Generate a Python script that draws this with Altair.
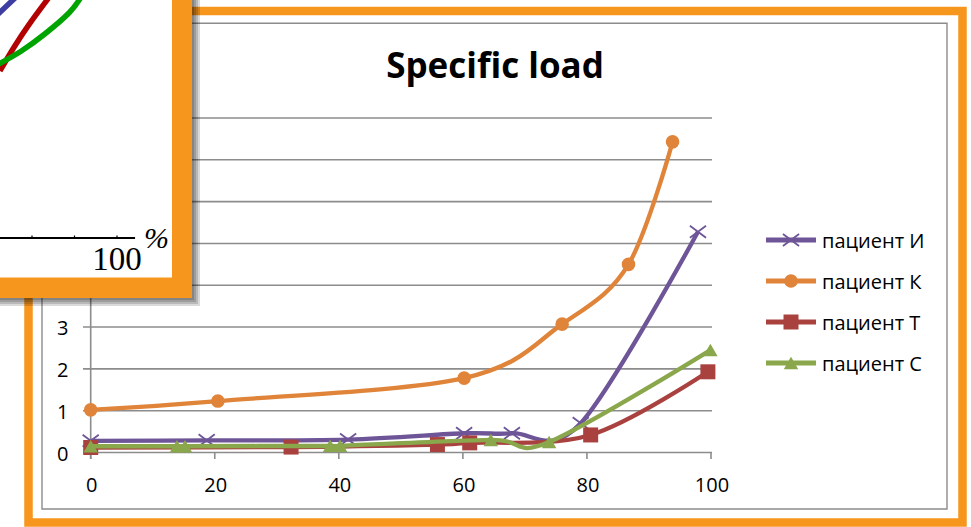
import altair as alt
import pandas as pd

W, H = 971, 527

# ---------------- data ----------------
series = ["пациент И", "пациент К", "пациент Т", "пациент С"]
colors = ["#6E5597", "#E0843A", "#A9423F", "#8AA74B"]

x_I = [0, 18.7, 41.5, 60.2, 67.9, 79.0, 97.9]
y_I = [0.28, 0.29, 0.31, 0.46, 0.46, 0.70, 5.28]
x_K = [0, 20.5, 60.2, 76.0, 86.7, 93.8]
y_K = [1.02, 1.23, 1.78, 3.07, 4.50, 7.43]
x_T = [0, 32.3, 55.9, 61.1, 80.6, 99.5]
y_T = [0.12, 0.13, 0.19, 0.23, 0.42, 1.93]
x_C = [0, 13.9, 15.2, 38.6, 40.2, 64.5, 73.9, 99.9]
y_C = [0.15, 0.15, 0.15, 0.16, 0.16, 0.30, 0.25, 2.45]

x_ticks = [0, 20, 40, 60, 80, 100]
y_ticks = [0, 1, 2, 3, 4, 5, 6, 7, 8]

title_text = "Specific load"

# fragment of another figure lying over the top-left corner
inset_red_x = [44.9, 51.6, 58.4, 68.5]
inset_red_y = [78.6, 89.9, 100.2, 113.9]
inset_green_x = [43.5, 55.0, 66.0, 77.5, 83.5]
inset_green_y = [81.4, 88.0, 96.0, 106.0, 114.0]
inset_blue_x = [43.5, 52.5]
inset_blue_y = [104.9, 113.4]
inset_ticks = [60, 80, 100]
inset_label = "100"
inset_unit = "%"

# ---------------- scales ----------------
XS = alt.Scale(domain=[0, 100], range=[90.7, 711], nice=False, zero=False)
YS = alt.Scale(domain=[0, 8], range=[452.5, 118], nice=False, zero=False)
LS = alt.Scale(type="point", domain=series, range=[240, 363], padding=0)
IXS = alt.Scale(domain=[0, 100], range=[-95.5, 117], nice=False, zero=False)
IYS = alt.Scale(domain=[0, 100], range=[238, 25.5], nice=False, zero=False)

ONE = alt.Data(values=[{}])
ORANGE = "#F7961D"
GRID = "#8C8C8C"
FONT = "Open Sans"
LABEL_SIZE = 20


def rect(x, x2, y, y2, **kw):
    return alt.Chart(ONE).mark_rect(**kw).encode(
        x=alt.value(x), x2=alt.value(x2), y=alt.value(y), y2=alt.value(y2)
    )


layers = []

# background + frames
layers.append(rect(0, W, 0, H, fill="white"))
layers.append(rect(28.5, 962.5, 11, 522.5, fillOpacity=0, stroke=ORANGE, strokeWidth=8.5))
layers.append(rect(42, 947, 23.3, 509, fillOpacity=0, stroke=GRID, strokeWidth=1.4))

# gridlines
layers.append(
    alt.Chart(pd.DataFrame({"v": y_ticks})).mark_rule(color=GRID, strokeWidth=1.6).encode(
        y=alt.Y("v:Q", scale=YS, axis=None), x=alt.value(83), x2=alt.value(712)
    )
)
# y axis line
layers.append(
    alt.Chart(pd.DataFrame({"v": [0]})).mark_rule(color=GRID, strokeWidth=1.6).encode(
        x=alt.X("v:Q", scale=XS, axis=None), y=alt.value(118), y2=alt.value(459)
    )
)
# x ticks
layers.append(
    alt.Chart(pd.DataFrame({"v": x_ticks})).mark_rule(color=GRID, strokeWidth=1.6).encode(
        x=alt.X("v:Q", scale=XS, axis=None), y=alt.value(452.5), y2=alt.value(459)
    )
)
# tick labels
layers.append(
    alt.Chart(pd.DataFrame({"v": x_ticks})).mark_text(
        font=FONT, fontSize=LABEL_SIZE, color="black", baseline="middle", align="center", dx=1
    ).encode(x=alt.X("v:Q", scale=XS, axis=None), y=alt.value(486), text="v:Q")
)
layers.append(
    alt.Chart(pd.DataFrame({"v": y_ticks})).mark_text(
        font=FONT, fontSize=LABEL_SIZE, color="black", baseline="middle", align="right", dy=2
    ).encode(y=alt.Y("v:Q", scale=YS, axis=None), x=alt.value(68.5), text="v:Q")
)

# title
layers.append(
    alt.Chart(ONE).mark_text(
        text=title_text, font=FONT, fontSize=35, fontWeight="bold", color="black",
        align="center", baseline="alphabetic"
    ).encode(x=alt.value(495), y=alt.value(78))
)

X_PATH = "M-1,-0.75L1,0.75M1,-0.75L-1,0.75"
marker = {
    "пациент И": dict(shape=X_PATH, size=260, strokeWidth=1.8),
    "пациент К": dict(shape="circle", size=185, strokeWidth=0),
    "пациент Т": dict(shape="square", size=225, strokeWidth=0),
    "пациент С": dict(shape="triangle-up", size=210, strokeWidth=0),
}

data_xy = {
    "пациент И": (x_I, y_I),
    "пациент К": (x_K, y_K),
    "пациент Т": (x_T, y_T),
    "пациент С": (x_C, y_C),
}

for name, col in zip(series, colors):
    xs, ys = data_xy[name]
    df = pd.DataFrame({"x": xs, "y": ys})
    base = alt.Chart(df).encode(
        x=alt.X("x:Q", scale=XS, axis=None), y=alt.Y("y:Q", scale=YS, axis=None)
    )
    layers.append(base.mark_line(interpolate="cardinal", tension=0, strokeWidth=4.3, color=col))
    m = marker[name]
    layers.append(
        base.mark_point(filled=True, fill=col, stroke=col, opacity=1,
                        shape=m["shape"], size=m["size"], strokeWidth=m["strokeWidth"])
    )

# legend
for name, col in zip(series, colors):
    ldf = pd.DataFrame({"s": [name]})
    lb = alt.Chart(ldf)
    layers.append(
        lb.mark_rule(color=col, strokeWidth=4.8).encode(
            y=alt.Y("s:N", scale=LS, axis=None), x=alt.value(766), x2=alt.value(816)
        )
    )
    m = marker[name]
    layers.append(
        lb.mark_point(filled=True, fill=col, stroke=col, opacity=1,
                      shape=m["shape"], size=m["size"], strokeWidth=m["strokeWidth"]).encode(
            y=alt.Y("s:N", scale=LS, axis=None), x=alt.value(791)
        )
    )
    layers.append(
        lb.mark_text(font=FONT, fontSize=LABEL_SIZE, color="black", align="left", baseline="middle", dy=2).encode(
            y=alt.Y("s:N", scale=LS, axis=None), x=alt.value(822), text="s:N"
        )
    )

# ---------------- overlapping fragment (top-left) ----------------
for k, op in [(8, 0.15), (6, 0.15), (4, 0.15), (2, 0.15)]:
    layers.append(rect(0, 192 + k, 0, 298 + k, fill="black", opacity=op))
layers.append(rect(0, 192, 0, 298, fill=ORANGE))
layers.append(rect(0, 172, 0, 277.5, fill="white"))

for xs, ys, col in [
    (inset_blue_x, inset_blue_y, "#3E3EA2"),
    (inset_red_x, inset_red_y, "#B30000"),
    (inset_green_x, inset_green_y, "#00A400"),
]:
    layers.append(
        alt.Chart(pd.DataFrame({"x": xs, "y": ys})).mark_line(
            interpolate="cardinal", tension=0, strokeWidth=5.5, color=col
        ).encode(x=alt.X("x:Q", scale=IXS, axis=None), y=alt.Y("y:Q", scale=IYS, axis=None))
    )

layers.append(
    alt.Chart(pd.DataFrame({"a": [40], "b": [108.5]})).mark_rule(color="black", strokeWidth=1.8).encode(
        x=alt.X("a:Q", scale=IXS, axis=None), x2="b:Q", y=alt.value(238)
    )
)
layers.append(
    alt.Chart(pd.DataFrame({"v": inset_ticks})).mark_rule(color="black", strokeWidth=1.2).encode(
        x=alt.X("v:Q", scale=IXS, axis=None), y=alt.value(235.5), y2=alt.value(238)
    )
)
layers.append(
    alt.Chart(pd.DataFrame({"v": [100], "t": [inset_label]})).mark_text(
        font="Liberation Serif", fontSize=33, color="black", align="center", baseline="alphabetic"
    ).encode(x=alt.X("v:Q", scale=IXS, axis=None), y=alt.value(270), text="t:N")
)
layers.append(
    alt.Chart(ONE).mark_text(
        text=inset_unit, font="Liberation Serif", fontSize=30, fontStyle="italic",
        color="black", align="left", baseline="alphabetic"
    ).encode(x=alt.value(144), y=alt.value(248))
)

chart = (
    alt.layer(*layers)
    .resolve_scale(x="independent", y="independent")
    .properties(width=W, height=H, autosize=alt.AutoSizeParams(type="none"), padding=0)
    .configure_view(strokeWidth=0)
)

chart.save("out.html", embed_options={"renderer": "svg", "actions": False})
